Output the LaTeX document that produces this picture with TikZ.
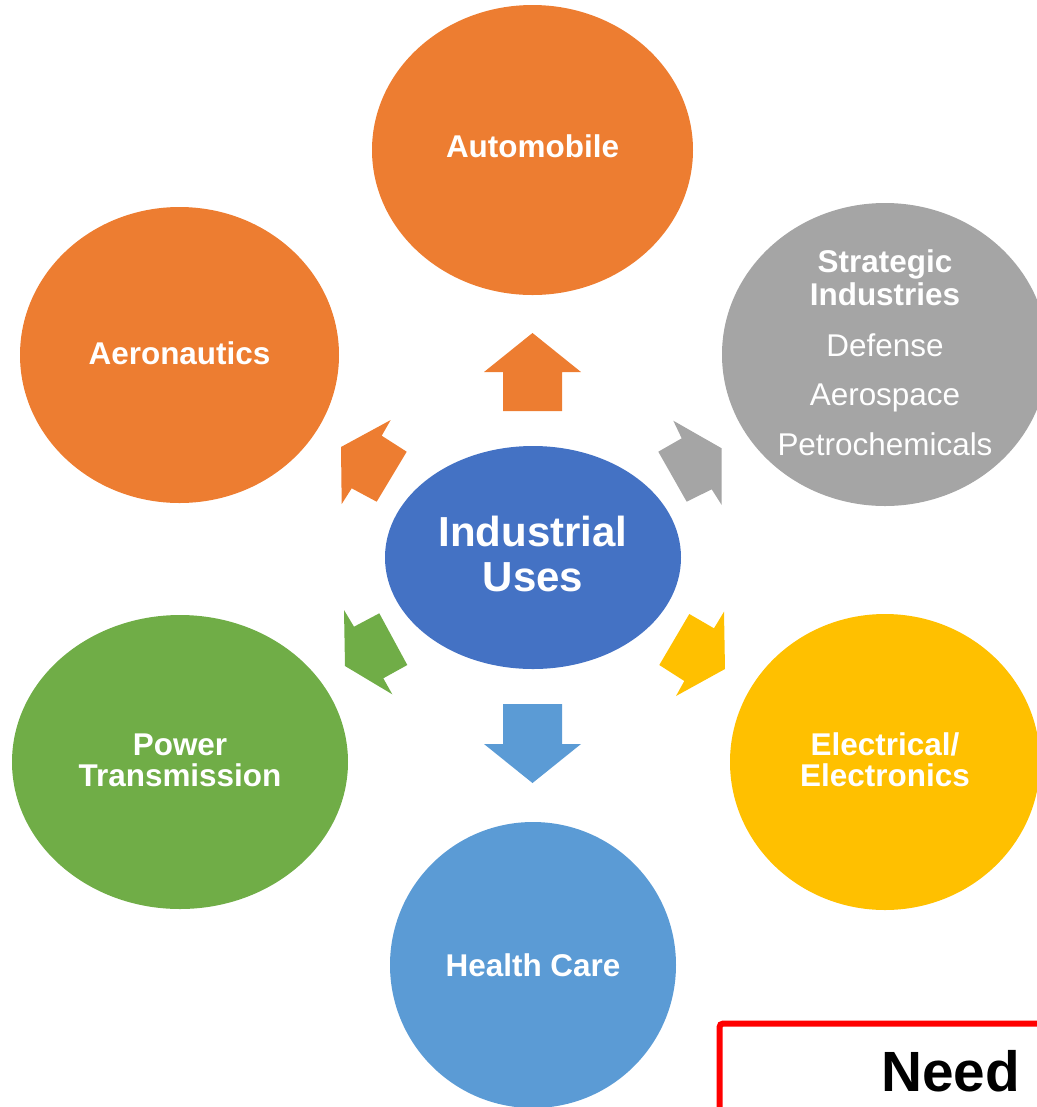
\documentclass[tikz,border=0pt]{standalone}
\usepackage{fontspec}
\setmainfont{Liberation Sans}
\usetikzlibrary{shapes.geometric}
\definecolor{corange}{HTML}{ED7D31}
\definecolor{cgray}{HTML}{A5A5A5}
\definecolor{cblue}{HTML}{4472C4}
\definecolor{cgreen}{HTML}{70AD47}
\definecolor{cyellow}{HTML}{FFC000}
\definecolor{clblue}{HTML}{5B9BD5}
\definecolor{cred}{HTML}{FF0000}
\begin{document}
\begin{tikzpicture}[x=0.02cm,y=-0.02cm,
  blob/.style={ellipse, inner sep=0pt, draw=none},
  lbl/.style={anchor=base, text=white, font=\fontsize{17.9}{17.9}\selectfont\bfseries, inner sep=0pt},
  lblr/.style={anchor=base, text=white, font=\fontsize{17.9}{17.9}\selectfont, inner sep=0pt},
  bigl/.style={anchor=base, text=white, font=\fontsize{23.9}{23.9}\selectfont\bfseries, inner sep=0pt}
]
\useasboundingbox (0,0) rectangle (1037,1107);
\clip (0,0) rectangle (1037,1107);

% ellipses
\node[blob, fill=corange, minimum width=321*0.02cm, minimum height=290*0.02cm] (auto) at (532.5,150) {};
\node[blob, fill=corange, minimum width=319*0.02cm, minimum height=296*0.02cm] (aero) at (179.5,355) {};
\node[blob, fill=cgray, minimum width=326*0.02cm, minimum height=303*0.02cm] (strat) at (885,354.5) {};
\node[blob, fill=cblue, minimum width=296*0.02cm, minimum height=223*0.02cm] (center) at (533,557.5) {};
\node[blob, fill=cgreen, minimum width=336*0.02cm, minimum height=294*0.02cm] (power) at (180,762) {};
\node[blob, fill=cyellow, minimum width=310*0.02cm, minimum height=296*0.02cm] (elec) at (885,762) {};
\node[blob, fill=clblue, minimum width=286*0.02cm, minimum height=286*0.02cm] (health) at (533,965) {};

% labels
\node[lbl] (tauto) at (532.5,157.3) {Automobile};
\node[lbl] (taero) at (179.5,364) {Aeronautics};
\node[lbl] (tstrat1) at (885,272.3) {Strategic};
\node[lbl] (tstrat2) at (885,305) {Industries};
\node[lblr] (tdef) at (885,356.7) {Defense};
\node[lblr] (taerosp) at (885,405.7) {Aerospace};
\node[lblr] (tpetro) at (885,455) {Petrochemicals};
\node[bigl] (tind1) at (533,546.7) {Industrial};
\node[bigl] (tind2) at (533,591.7) {Uses};
\node[lbl] (tpow1) at (180,755) {Power};
\node[lbl] (tpow2) at (180,786) {Transmission};
\node[lbl] (tel1) at (885,755) {Electrical/};
\node[lbl] (tel2) at (885,786) {Electronics};
\node[lbl] (thealth) at (533,976.7) {Health Care};

% block arrows
\fill[corange] (532.5,333) -- (581,372) -- (562,372) -- (562,411) -- (503,411) -- (503,372) -- (484,372) -- cycle;
\fill[clblue] (532.5,783) -- (581,744) -- (562,744) -- (562,704) -- (503,704) -- (503,744) -- (484,744) -- cycle;
\fill[corange] (341,447) -- (390.7,420) -- (381.7,435.7) -- (406.7,451.7) -- (376.7,501.7) -- (351.7,488.3) -- (341.7,504) -- cycle;
\fill[cgray] (721.7,448.3) -- (673.3,420.7) -- (681.7,438.3) -- (658.3,451.7) -- (686.7,501.7) -- (711.7,489.3) -- (721.7,505) -- cycle;
\fill[cgreen] (345,666) -- (344,610) -- (354,626.7) -- (379.3,613.3) -- (407.3,665) -- (383.3,678.3) -- (392.3,694.3) -- cycle;
\fill[cyellow] (725,669) -- (724,611.7) -- (714,628.3) -- (689.3,614) -- (659.3,665) -- (684.3,681) -- (676,696) -- cycle;

% red box
\draw[cred, line width=6*0.02cm, rounded corners=3*0.02cm] (719.7,1130) -- (719.7,1023.7) -- (1060,1023.7);
\node[anchor=base, text=black, font=\fontsize{32.3}{32.3}\selectfont\bfseries, inner sep=0pt] (need) at (950.5,1091) {Need};
\end{tikzpicture}
\end{document}
